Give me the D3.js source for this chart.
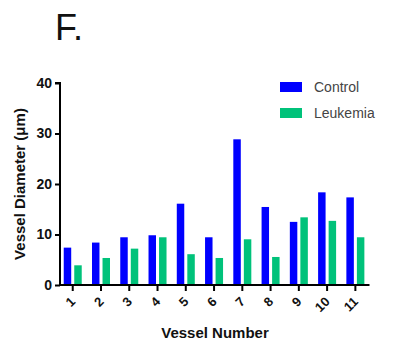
<!DOCTYPE html>
<html>
<head>
<meta charset="utf-8">
<script src="https://cdn.jsdelivr.net/npm/d3@7"></script>
<style>
  html, body { margin: 0; padding: 0; background: #fff; }
  svg { display: block; font-family: "Liberation Sans", Arial, sans-serif; }
</style>
</head>
<body>
<svg id="chart" width="393" height="360"></svg>
<script>
// Vessel diameters per vessel, control vs leukemia
const vessels = ["1", "2", "3", "4", "5", "6", "7", "8", "9", "10", "11"];
const seriesNames = ["Control", "Leukemia"];
const control = [7.4, 8.4, 9.45, 9.85, 16.1, 9.45, 28.85, 15.45, 12.5, 18.35, 17.35];
const leukemia = [3.9, 5.35, 7.2, 9.45, 6.1, 5.35, 9.05, 5.55, 13.4, 12.7, 9.45];
const yTicks = [0, 10, 20, 30, 40];
const colors = ["#0000ff", "#00c27a"];

const svg = d3.select("#chart");
const axisX = 60;

const x0 = d3.scaleBand().domain(vessels).range([58.6, 369.5]).padding(0);
const x1 = d3.scaleBand().domain(seriesNames)
  .range([(x0.bandwidth() - 18) / 2, (x0.bandwidth() + 18) / 2])
  .paddingInner(0.29).paddingOuter(0);
const y = d3.scaleLinear().domain([0, 40]).range([285, 83]);

const rows = vessels.map((v, i) => ({ v, vals: [control[i], leukemia[i]] }));

// Bars
svg.append("g").selectAll("g.grp").data(rows).join("g")
  .attr("class", "grp")
  .attr("transform", d => `translate(${x0(d.v)},0)`)
  .selectAll("rect").data(d => d.vals.map((val, k) => ({ s: seriesNames[k], val, k })))
  .join("rect")
  .attr("x", d => x1(d.s))
  .attr("width", x1.bandwidth())
  .attr("y", d => y(d.val))
  .attr("height", d => y(0) - y(d.val))
  .attr("fill", d => colors[d.k]);

// X axis
const xAxis = svg.append("g")
  .attr("transform", `translate(0,${y(0)})`)
  .call(d3.axisBottom(x0).tickSize(6).tickSizeOuter(0));
xAxis.select(".domain").attr("stroke", "#000").attr("stroke-width", 2)
  .attr("d", `M${axisX - 1},0H${x0.range()[1]}`);
xAxis.selectAll(".tick line").attr("stroke", "#000").attr("stroke-width", 2);
xAxis.selectAll(".tick text")
  .attr("fill", "#111").style("font-size", "13px").style("font-weight", "bold")
  .attr("text-anchor", "end")
  .attr("x", 0).attr("y", 0).attr("dy", 0)
  .attr("transform", "translate(3.5,17.5) rotate(-45)");

// Y axis
const yAxis = svg.append("g")
  .attr("transform", `translate(${axisX},0)`)
  .call(d3.axisLeft(y).tickValues(yTicks).tickSize(5).tickPadding(3));
yAxis.select(".domain").attr("stroke", "#000").attr("stroke-width", 2)
  .attr("d", `M-5,${y(40)}H0V${y(0) + 1}`);
yAxis.selectAll(".tick line").attr("stroke", "#000").attr("stroke-width", 2);
yAxis.selectAll(".tick text")
  .attr("fill", "#111").style("font-size", "14px").style("font-weight", "bold");

// Axis titles
svg.append("text")
  .attr("transform", `translate(25,${(y(0) + y(40)) / 2}) rotate(-90)`)
  .attr("text-anchor", "middle")
  .style("font-size", "15px").style("font-weight", "bold")
  .attr("fill", "#111")
  .text("Vessel Diameter (μm)");

svg.append("text")
  .attr("x", 215)
  .attr("y", 338)
  .attr("text-anchor", "middle")
  .style("font-size", "15px").style("font-weight", "bold")
  .attr("fill", "#111")
  .text("Vessel Number");

// Panel label
svg.append("text")
  .attr("x", 55).attr("y", 40)
  .style("font-size", "36px")
  .attr("fill", "#111")
  .text("F.");

// Legend
const legend = svg.append("g").attr("transform", "translate(280,82)");
seriesNames.forEach((name, i) => {
  const row = legend.append("g").attr("transform", `translate(0,${i * 26})`);
  row.append("rect").attr("width", 22).attr("height", 10).attr("fill", colors[i]);
  row.append("text").attr("x", 34).attr("y", 10)
    .style("font-size", "14px").attr("fill", "#444").text(name);
});
</script>
</body>
</html>
